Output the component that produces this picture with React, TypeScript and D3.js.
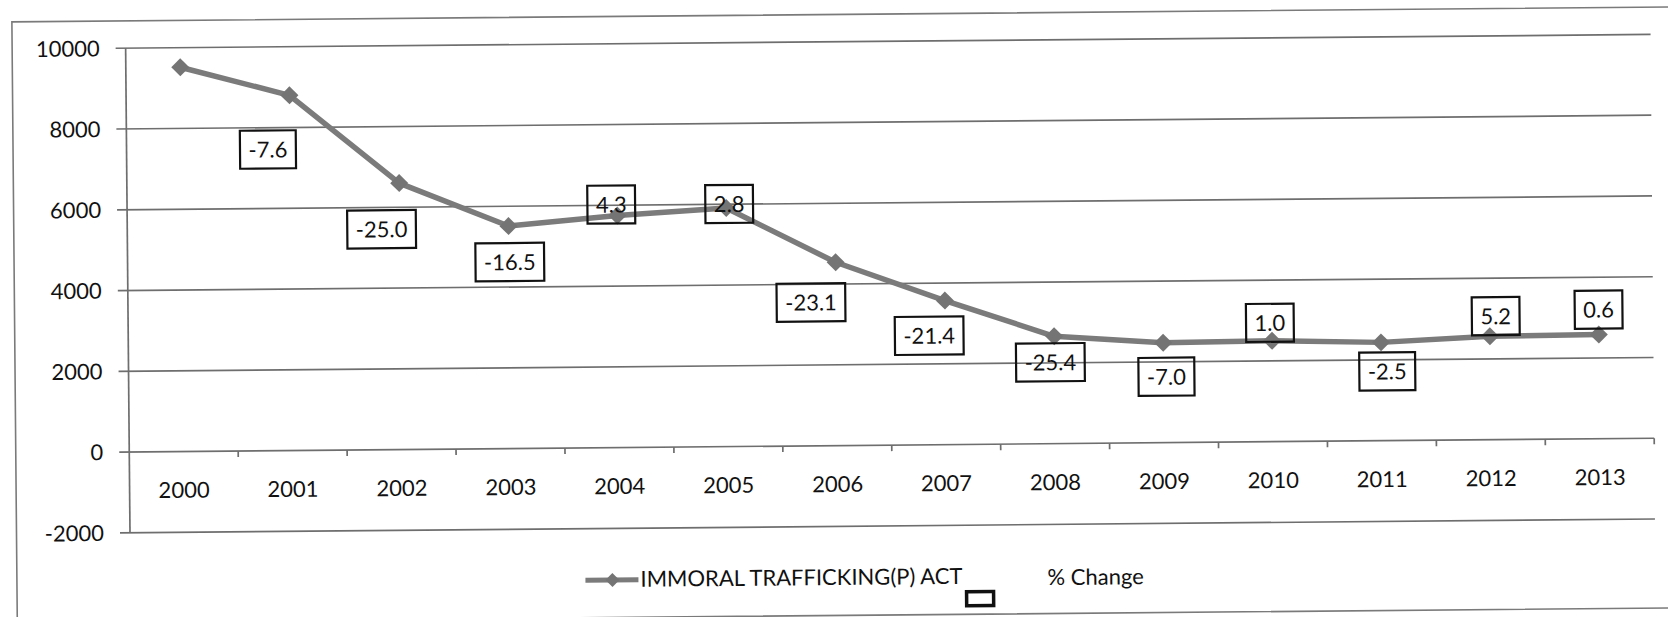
import React from 'react';
import * as d3 from 'd3';

// ---- data ----
const years = ['2000', '2001', '2002', '2003', '2004', '2005', '2006', '2007', '2008', '2009', '2010', '2011', '2012', '2013'];
const cases = [9515, 8796, 6598, 5510, 5748, 5908, 4541, 3568, 2659, 2474, 2499, 2435, 2563, 2579];
const pctChange = [null, '-7.6', '-25.0', '-16.5', '4.3', '2.8', '-23.1', '-21.4', '-25.4', '-7.0', '1.0', '-2.5', '5.2', '0.6'];
const yTicks = [-2000, 0, 2000, 4000, 6000, 8000, 10000];
const seriesName = 'IMMORAL TRAFFICKING(P) ACT';
const changeName = '% Change';

// ---- layout (label box offsets from their point, in px) ----
const labelOffsets: [number, number][] = [
  [0, 0], [-22, 54], [-18, 46], [1, 36], [-6, -11], [3, -4], [-25, 40],
  [-16, 35], [-4, 26], [3, 34], [-2, -18], [6, 29], [6, -20], [0, -25],
];

const W = 1668;
const H = 617;
const FONT = 'Lato, "Open Sans", sans-serif';
const FS = 22;
const GRID = '#6e6e6e';
const LINE = '#7b7b7b';
const MARK = '#747474';
const TXT = '#111';

function measure(text: string, size: number) {
  const ctx = document.createElement('canvas').getContext('2d');
  if (!ctx) return text.length * size * 0.55;
  ctx.font = `${size}px Lato`;
  return ctx.measureText(text).width;
}

const diamond = (cx: number, cy: number, r: number) =>
  `M${cx},${cy - r}L${cx + r},${cy}L${cx},${cy + r}L${cx - r},${cy}Z`;

export default function App() {
  const x = d3.scaleBand<string>().domain(years).range([128, 1653]).padding(0);
  const y = d3.scaleLinear().domain([-2000, 10000]).range([526.4, 41.8]);
  const cx = (i: number) => (x(years[i]) as number) + x.bandwidth() / 2;

  const line = d3
    .line<number>()
    .x((_, i) => cx(i))
    .y((d) => y(d));

  const boundaries = d3.range(years.length + 1).map((i) => 128 + i * x.bandwidth());

  return (
    <svg
      width={W}
      height={H}
      style={{ position: 'absolute', left: 0, top: 0, background: '#fff' }}
      fontFamily={FONT}
    >
      <rect x={0} y={0} width={W} height={H} fill="#fff" />
      <g transform={`rotate(-0.516, 834, 308)`}>
        {/* outer frame */}
        <rect x={14.5} y={14.5} width={1720} height={601} fill="none" stroke="#7a7a7a" strokeWidth={1.6} />

        {/* gridlines + y ticks */}
        {yTicks.map((v) => (
          <line key={v} x1={118} x2={1653} y1={y(v)} y2={y(v)} stroke={GRID} strokeWidth={1.7} />
        ))}
        {/* y axis */}
        <line x1={128} x2={128} y1={y(-2000)} y2={y(10000)} stroke={GRID} strokeWidth={1.7} />
        {/* x axis ticks at category boundaries */}
        {boundaries.slice(1).map((b, i) => (
          <line key={i} x1={b} x2={b} y1={y(0)} y2={y(0) + 6} stroke={GRID} strokeWidth={1.7} />
        ))}

        {/* y labels */}
        {yTicks.map((v) => (
          <text key={v} x={102} y={y(v) + 8} textAnchor="end" fontSize={FS} fill={TXT}>
            {v}
          </text>
        ))}
        {/* x labels */}
        {years.map((yr, i) => (
          <text key={yr} x={cx(i)} y={492} textAnchor="middle" fontSize={FS} fill={TXT}>
            {yr}
          </text>
        ))}

        {/* series */}
        <path d={line(cases) || ''} fill="none" stroke={LINE} strokeWidth={5.5} strokeLinejoin="round" />
        {cases.map((v, i) => (
          <path key={i} d={diamond(cx(i), y(v), 9)} fill={MARK} />
        ))}

        {/* % change labels */}
        {pctChange.map((p, i) => {
          if (p == null) return null;
          const [dx, dy] = labelOffsets[i];
          const bx = cx(i) + dx;
          const by = y(cases[i]) + dy;
          const w = measure(p, FS) + 17;
          const h = 38;
          return (
            <g key={i}>
              <rect x={bx - w / 2} y={by - h / 2} width={w} height={h} fill="none" stroke="#111" strokeWidth={2.2} />
              <text x={bx} y={by + 8} textAnchor="middle" fontSize={FS} fill={TXT}>
                {p}
              </text>
            </g>
          );
        })}

        {/* legend */}
        <line x1={583} x2={636} y1={578} y2={578} stroke={LINE} strokeWidth={5} />
        <path d={diamond(610, 578, 7)} fill={MARK} />
        <text x={638} y={585} fontSize={FS} fill={TXT}>
          {seriesName}
        </text>
        <rect x={964} y={593} width={27} height={14} fill="none" stroke="#111" strokeWidth={3.5} />
        <text x={1045} y={587} fontSize={FS} fill={TXT}>
          {changeName}
        </text>
      </g>
    </svg>
  );
}
